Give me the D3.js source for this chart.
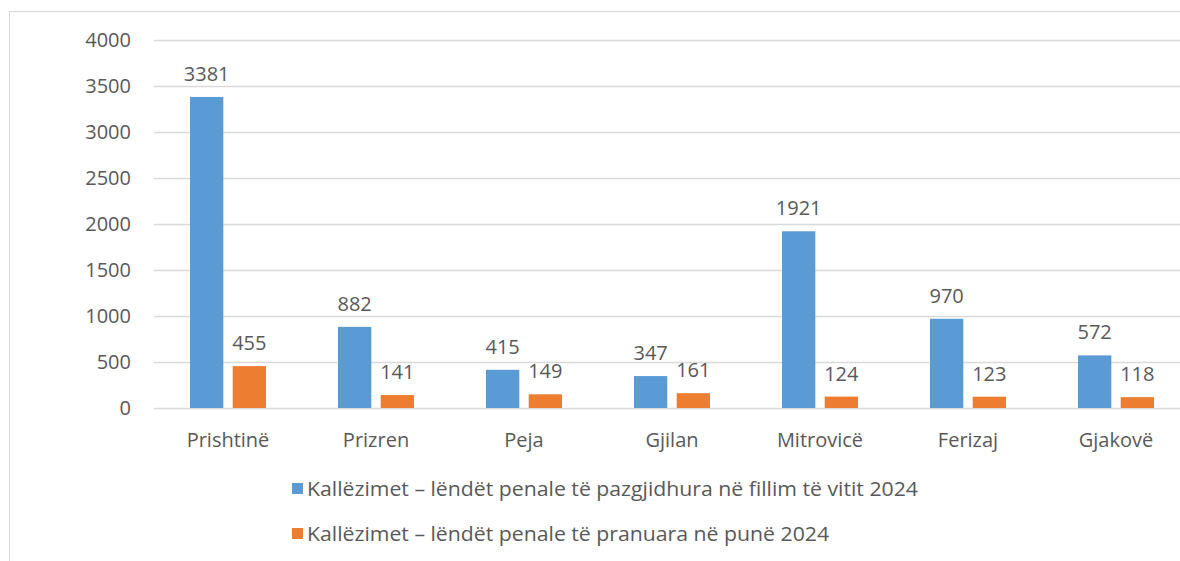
<!DOCTYPE html>
<html><head><meta charset="utf-8">
<script src="https://cdn.jsdelivr.net/npm/d3@7"></script>
<style>body{margin:0;background:#fff}svg{display:block}text{font-family:"Open Sans",sans-serif;fill:#595959}</style>
</head><body>
<svg id="c" width="1180" height="561"></svg>
<script>
const categories = ["Prishtinë","Prizren","Peja","Gjilan","Mitrovicë","Ferizaj","Gjakovë"];
const seriesNames = ["Kallëzimet – lëndët penale të pazgjidhura në fillim të vitit 2024","Kallëzimet – lëndët penale të pranuara në punë 2024"];
const unresolved = [3381,882,415,347,1921,970,572];
const received = [455,141,149,161,124,123,118];
const yTicks = [0,500,1000,1500,2000,2500,3000,3500,4000];
const colors = ["#5b9bd5","#ed7d31"];
const FS = 20;

const svg = d3.select("#c");
svg.append("rect").attr("x",9.5).attr("y",11.5).attr("width",1200).attr("height",600).attr("fill","none").attr("stroke","#d9d9d9");

const x = d3.scaleBand().domain(categories).range([154,1190]).paddingInner(0).paddingOuter(0);
const y = d3.scaleLinear().domain([0,4000]).range([408,40]);
const xs = d3.scaleBand().domain([0,1]).range([-38,38]).paddingInner(0.22);

const g = svg.append("g");
g.selectAll("line.grid").data(yTicks).join("line").attr("class","grid")
 .attr("x1",154).attr("x2",1190).attr("y1",d=>Math.round(y(d))+0.5).attr("y2",d=>Math.round(y(d))+0.5)
 .attr("stroke","#d9d9d9").attr("stroke-width",1.3);
g.selectAll("text.yt").data(yTicks).join("text").attr("class","yt")
 .attr("x",131).attr("y",d=>y(d)).attr("dy","0.35em").attr("text-anchor","end").attr("font-size",FS).text(d=>d);

const series = [unresolved, received];
series.forEach((vals,si)=>{
  const gg = svg.append("g");
  gg.selectAll("rect").data(vals).join("rect")
   .attr("x",(d,i)=>x(categories[i])+x.bandwidth()/2+xs(si))
   .attr("width",xs.bandwidth())
   .attr("y",d=>y(d)).attr("height",d=>y(0)-y(d)).attr("fill",colors[si]);
  gg.selectAll("text").data(vals).join("text")
   .attr("x",(d,i)=>x(categories[i])+x.bandwidth()/2+xs(si)+xs.bandwidth()/2)
   .attr("y",d=>y(d)-16).attr("text-anchor","middle").attr("font-size",FS).text(d=>d);
});

svg.selectAll("text.xt").data(categories).join("text").attr("class","xt")
 .attr("x",d=>x(d)+x.bandwidth()/2).attr("y",447).attr("text-anchor","middle").attr("font-size",FS).text(d=>d);

const legendText = [];
seriesNames.forEach((n,i)=>{
  const ly = 489 + i*45;
  svg.append("rect").attr("x",292).attr("y",ly-6).attr("width",11).attr("height",11).attr("fill",colors[i]);
  legendText.push(svg.append("text").attr("x",307).attr("y",ly).attr("dy","0.35em").attr("font-size",FS).text(n));
});
const w0 = legendText[0].node().getComputedTextLength();
const scale = 611 / w0;
if (Math.abs(scale-1) > 0.01) legendText.forEach(t=>t.attr("textLength", t.node().getComputedTextLength()*scale).attr("lengthAdjust","spacingAndGlyphs"));
</script>
</body></html>
